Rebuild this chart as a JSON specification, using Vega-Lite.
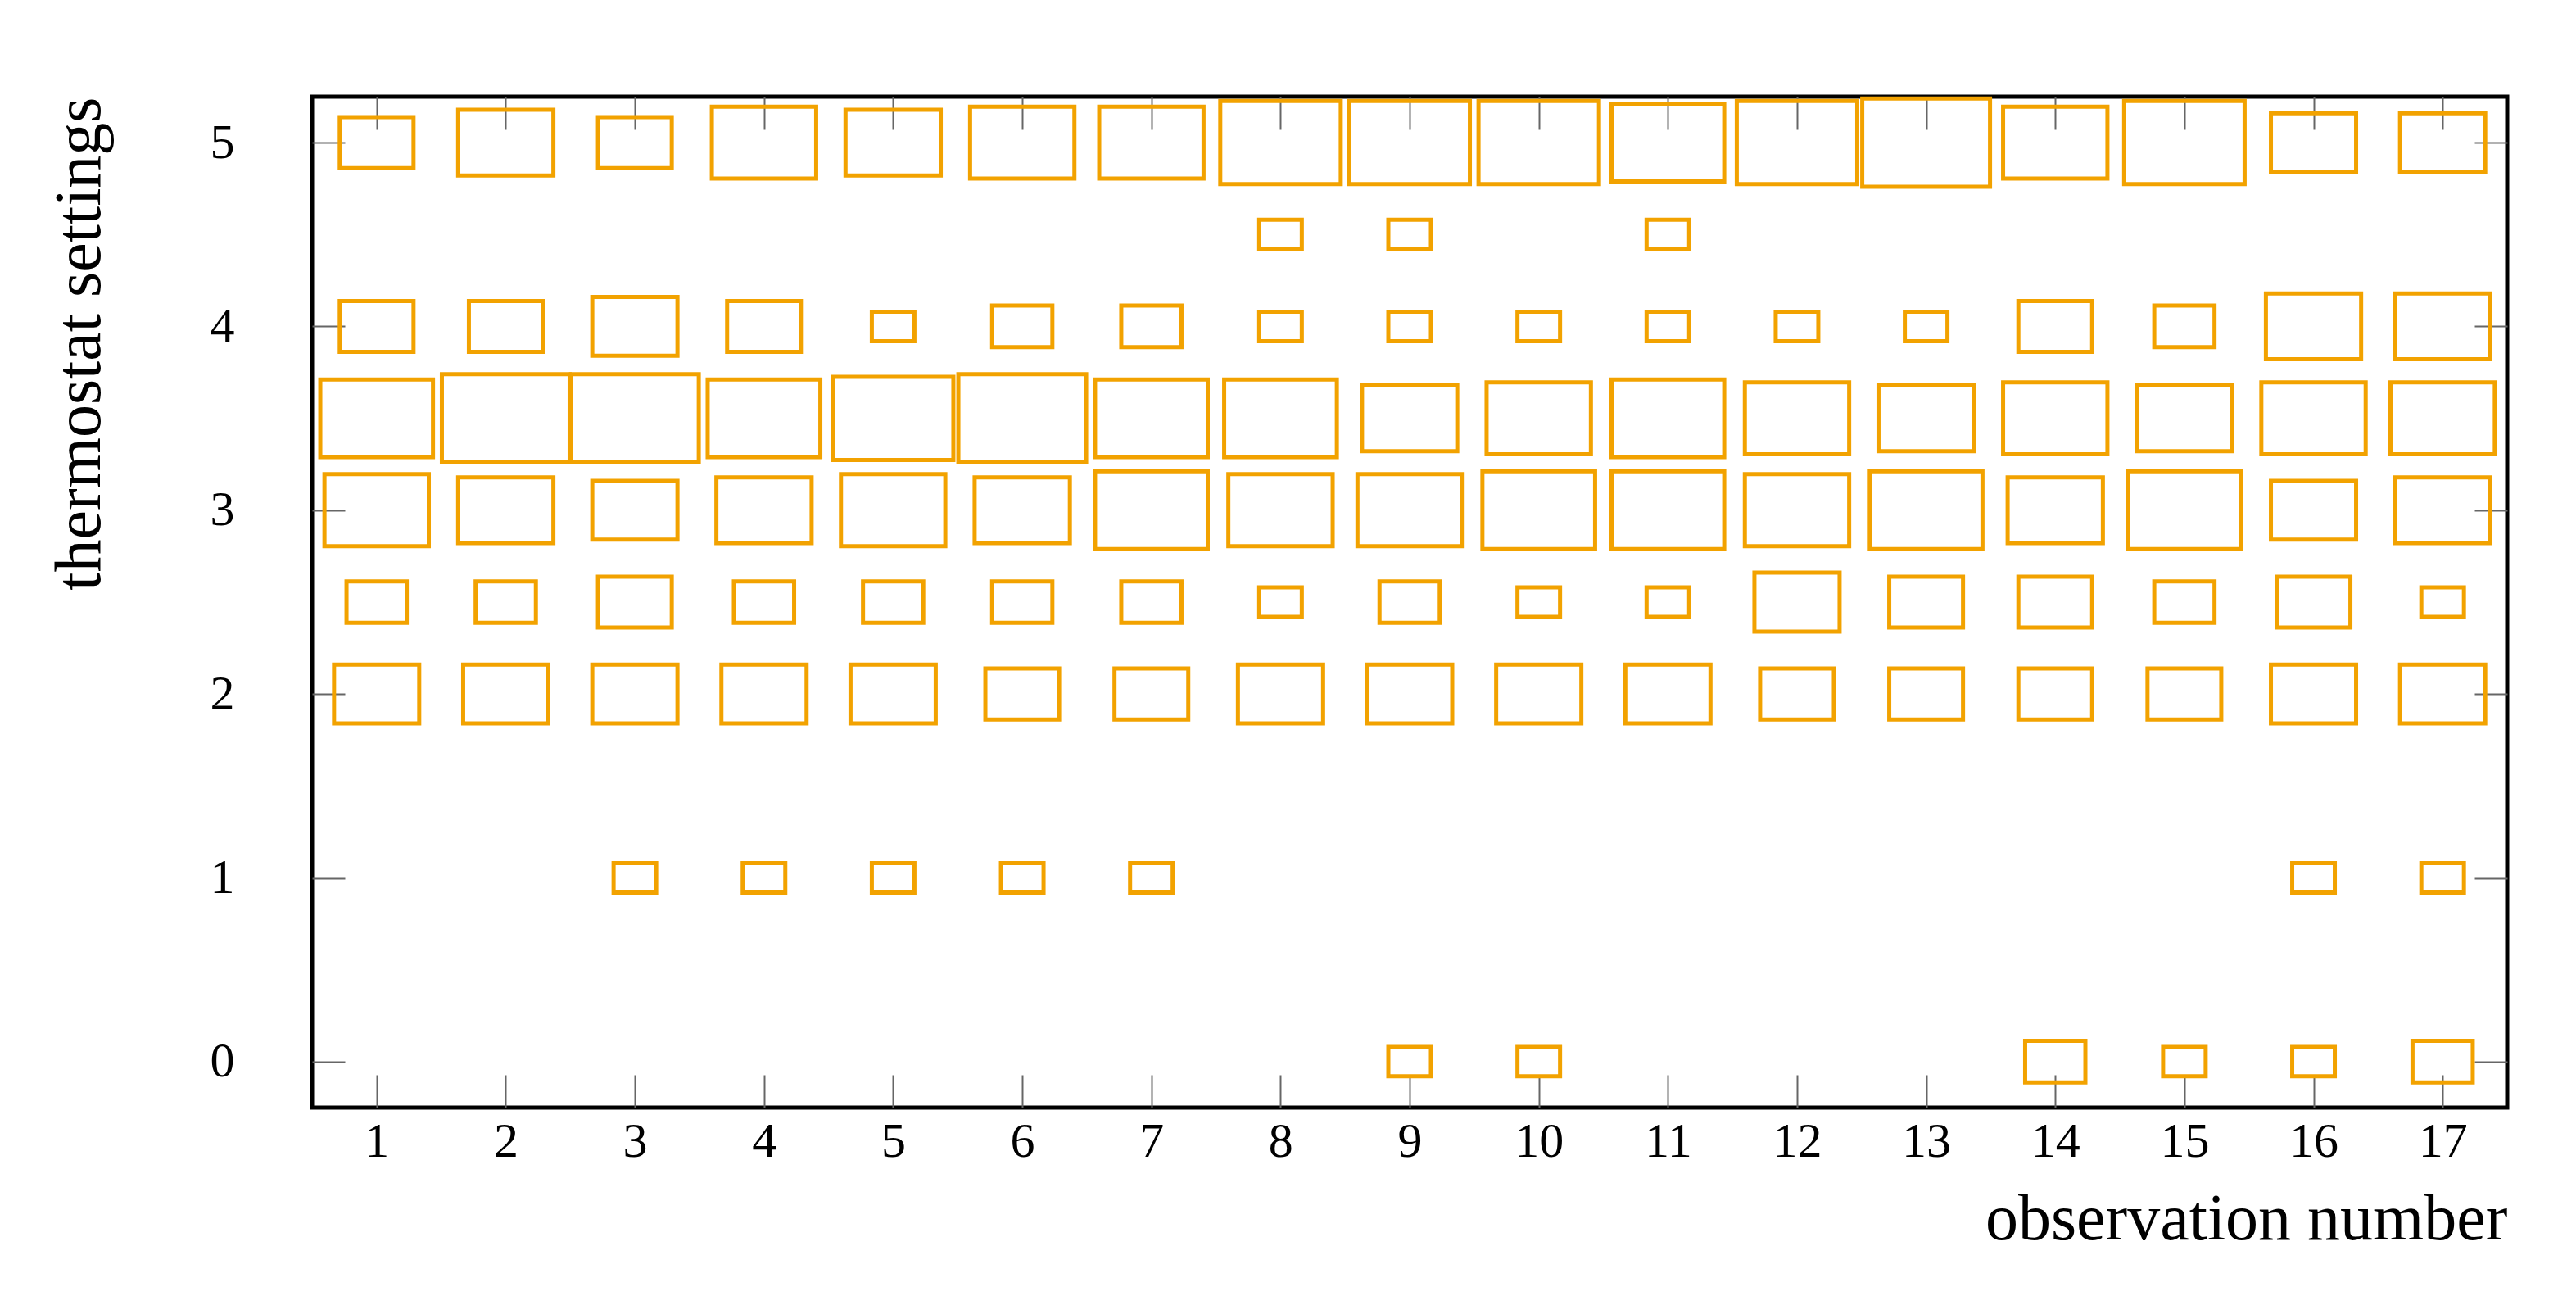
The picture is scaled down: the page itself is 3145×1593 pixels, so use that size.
{
  "$schema": "https://vega.github.io/schema/vega-lite/v6.json",
  "width": 2680,
  "height": 1234,
  "autosize": "none",
  "padding": {"left": 381, "top": 118, "right": 84, "bottom": 241},
  "background": "white",
  "config": {
    "view": {"stroke": "black", "strokeWidth": 5},
    "font": "Liberation Serif",
    "axis": {
      "domain": false,
      "grid": false,
      "tickColor": "#666666",
      "tickWidth": 2,
      "tickSize": -40,
      "labelFont": "Liberation Serif",
      "labelFontSize": 60,
      "labelColor": "black",
      "titleFont": "Liberation Serif",
      "titleFontSize": 80,
      "titleFontWeight": "normal",
      "titleColor": "black"
    }
  },
  "data": {
    "values": [
      {"obs": 1, "setting": 5, "count": 3}, {"obs": 2, "setting": 5, "count": 5}, {"obs": 3, "setting": 5, "count": 3},
      {"obs": 4, "setting": 5, "count": 6}, {"obs": 5, "setting": 5, "count": 5}, {"obs": 6, "setting": 5, "count": 6},
      {"obs": 7, "setting": 5, "count": 6}, {"obs": 8, "setting": 5, "count": 8}, {"obs": 9, "setting": 5, "count": 8},
      {"obs": 10, "setting": 5, "count": 8}, {"obs": 11, "setting": 5, "count": 7}, {"obs": 12, "setting": 5, "count": 8},
      {"obs": 13, "setting": 5, "count": 9}, {"obs": 14, "setting": 5, "count": 6}, {"obs": 15, "setting": 5, "count": 8},
      {"obs": 16, "setting": 5, "count": 4}, {"obs": 17, "setting": 5, "count": 4},
      {"obs": 8, "setting": 4.5, "count": 1}, {"obs": 9, "setting": 4.5, "count": 1}, {"obs": 11, "setting": 4.5, "count": 1},
      {"obs": 1, "setting": 4, "count": 3}, {"obs": 2, "setting": 4, "count": 3}, {"obs": 3, "setting": 4, "count": 4},
      {"obs": 4, "setting": 4, "count": 3}, {"obs": 5, "setting": 4, "count": 1}, {"obs": 6, "setting": 4, "count": 2},
      {"obs": 7, "setting": 4, "count": 2}, {"obs": 8, "setting": 4, "count": 1}, {"obs": 9, "setting": 4, "count": 1},
      {"obs": 10, "setting": 4, "count": 1}, {"obs": 11, "setting": 4, "count": 1}, {"obs": 12, "setting": 4, "count": 1},
      {"obs": 13, "setting": 4, "count": 1}, {"obs": 14, "setting": 4, "count": 3}, {"obs": 15, "setting": 4, "count": 2},
      {"obs": 16, "setting": 4, "count": 5}, {"obs": 17, "setting": 4, "count": 5},
      {"obs": 1, "setting": 3.5, "count": 7}, {"obs": 2, "setting": 3.5, "count": 9}, {"obs": 3, "setting": 3.5, "count": 9},
      {"obs": 4, "setting": 3.5, "count": 7}, {"obs": 5, "setting": 3.5, "count": 8}, {"obs": 6, "setting": 3.5, "count": 9},
      {"obs": 7, "setting": 3.5, "count": 7}, {"obs": 8, "setting": 3.5, "count": 7}, {"obs": 9, "setting": 3.5, "count": 5},
      {"obs": 10, "setting": 3.5, "count": 6}, {"obs": 11, "setting": 3.5, "count": 7}, {"obs": 12, "setting": 3.5, "count": 6},
      {"obs": 13, "setting": 3.5, "count": 5}, {"obs": 14, "setting": 3.5, "count": 6}, {"obs": 15, "setting": 3.5, "count": 5},
      {"obs": 16, "setting": 3.5, "count": 6}, {"obs": 17, "setting": 3.5, "count": 6},
      {"obs": 1, "setting": 3, "count": 6}, {"obs": 2, "setting": 3, "count": 5}, {"obs": 3, "setting": 3, "count": 4},
      {"obs": 4, "setting": 3, "count": 5}, {"obs": 5, "setting": 3, "count": 6}, {"obs": 6, "setting": 3, "count": 5},
      {"obs": 7, "setting": 3, "count": 7}, {"obs": 8, "setting": 3, "count": 6}, {"obs": 9, "setting": 3, "count": 6},
      {"obs": 10, "setting": 3, "count": 7}, {"obs": 11, "setting": 3, "count": 7}, {"obs": 12, "setting": 3, "count": 6},
      {"obs": 13, "setting": 3, "count": 7}, {"obs": 14, "setting": 3, "count": 5}, {"obs": 15, "setting": 3, "count": 7},
      {"obs": 16, "setting": 3, "count": 4}, {"obs": 17, "setting": 3, "count": 5},
      {"obs": 1, "setting": 2.5, "count": 2}, {"obs": 2, "setting": 2.5, "count": 2}, {"obs": 3, "setting": 2.5, "count": 3},
      {"obs": 4, "setting": 2.5, "count": 2}, {"obs": 5, "setting": 2.5, "count": 2}, {"obs": 6, "setting": 2.5, "count": 2},
      {"obs": 7, "setting": 2.5, "count": 2}, {"obs": 8, "setting": 2.5, "count": 1}, {"obs": 9, "setting": 2.5, "count": 2},
      {"obs": 10, "setting": 2.5, "count": 1}, {"obs": 11, "setting": 2.5, "count": 1}, {"obs": 12, "setting": 2.5, "count": 4},
      {"obs": 13, "setting": 2.5, "count": 3}, {"obs": 14, "setting": 2.5, "count": 3}, {"obs": 15, "setting": 2.5, "count": 2},
      {"obs": 16, "setting": 2.5, "count": 3}, {"obs": 17, "setting": 2.5, "count": 1},
      {"obs": 1, "setting": 2, "count": 4}, {"obs": 2, "setting": 2, "count": 4}, {"obs": 3, "setting": 2, "count": 4},
      {"obs": 4, "setting": 2, "count": 4}, {"obs": 5, "setting": 2, "count": 4}, {"obs": 6, "setting": 2, "count": 3},
      {"obs": 7, "setting": 2, "count": 3}, {"obs": 8, "setting": 2, "count": 4}, {"obs": 9, "setting": 2, "count": 4},
      {"obs": 10, "setting": 2, "count": 4}, {"obs": 11, "setting": 2, "count": 4}, {"obs": 12, "setting": 2, "count": 3},
      {"obs": 13, "setting": 2, "count": 3}, {"obs": 14, "setting": 2, "count": 3}, {"obs": 15, "setting": 2, "count": 3},
      {"obs": 16, "setting": 2, "count": 4}, {"obs": 17, "setting": 2, "count": 4},
      {"obs": 3, "setting": 1, "count": 1}, {"obs": 4, "setting": 1, "count": 1}, {"obs": 5, "setting": 1, "count": 1},
      {"obs": 6, "setting": 1, "count": 1}, {"obs": 7, "setting": 1, "count": 1}, {"obs": 16, "setting": 1, "count": 1},
      {"obs": 17, "setting": 1, "count": 1},
      {"obs": 9, "setting": 0, "count": 1}, {"obs": 10, "setting": 0, "count": 1}, {"obs": 14, "setting": 0, "count": 2},
      {"obs": 15, "setting": 0, "count": 1}, {"obs": 16, "setting": 0, "count": 1}, {"obs": 17, "setting": 0, "count": 2}
    ]
  },
  "resolve": {"axis": {"x": "independent", "y": "independent"}},
  "layer": [
    {
      "mark": {"type": "point", "shape": "M-1,-0.69L1,-0.69L1,0.69L-1,0.69Z", "filled": false, "stroke": "#f2a200", "strokeWidth": 5, "opacity": 1},
      "encoding": {
        "x": {
          "field": "obs", "type": "quantitative",
          "scale": {"domain": [0.5, 17.5], "nice": false, "zero": false},
          "axis": {"values": [1,2,3,4,5,6,7,8,9,10,11,12,13,14,15,16,17], "title": "observation number", "titleAnchor": "end", "labelPadding": 52, "titlePadding": 26, "labelFlush": false}
        },
        "y": {
          "field": "setting", "type": "quantitative",
          "scale": {"domain": [-0.25, 5.25], "nice": false, "zero": false},
          "axis": {"values": [0,1,2,3,4,5], "title": "thermostat settings", "titleAnchor": "end", "labelPadding": 135, "titlePadding": 118, "labelFlush": false}
        },
        "size": {"field": "count", "type": "quantitative", "scale": {"domain": [0, 9], "range": [0, 24336]}, "legend": null}
      }
    },
    {
      "mark": {"type": "point", "shape": "M-1,-0.69L1,-0.69L1,0.69L-1,0.69Z", "filled": false, "opacity": 0},
      "encoding": {
        "x": {
          "field": "obs", "type": "quantitative",
          "axis": {"orient": "top", "values": [1,2,3,4,5,6,7,8,9,10,11,12,13,14,15,16,17], "labels": false, "title": null}
        },
        "y": {
          "field": "setting", "type": "quantitative",
          "axis": {"orient": "right", "values": [0,1,2,3,4,5], "labels": false, "title": null}
        },
        "size": {"field": "count", "type": "quantitative", "legend": null}
      }
    }
  ]
}
